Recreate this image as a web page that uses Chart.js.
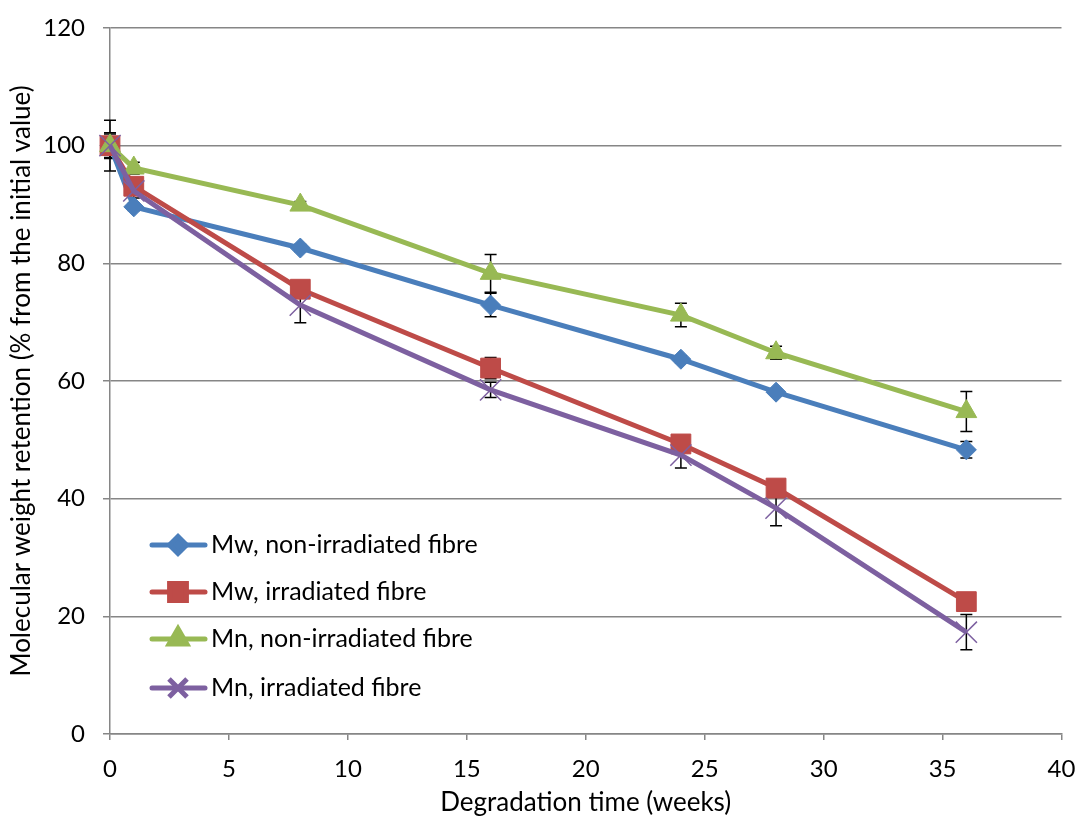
<!DOCTYPE html>
<html>
<head>
<meta charset="utf-8">
<script src="https://cdn.jsdelivr.net/npm/chart.js@4.4.1/dist/chart.umd.min.js"></script>
<style>
  html, body { margin: 0; padding: 0; background: #fff; }
  #wrap { width: 1078px; height: 818px; }
</style>
</head>
<body>
<div id="wrap"><canvas id="grafica"></canvas></div>
<script>
const semanas = [0, 1, 8, 16, 24, 28, 36];

const mwNoIrr = [100, 89.6, 82.6, 72.9, 63.7, 58.1, 48.3];
const mwIrr   = [100, 93.1, 75.6, 62.2, 49.3, 41.8, 22.5];
const mnNoIrr = [100, 96.2, 89.9, 78.3, 71.2, 64.8, 54.8];
const mnIrr   = [100, 92.3, 72.9, 58.5, 47.4, 38.4, 17.3];

const errMwNoIrr = [2.2, 0.6, 0.6, 2.0, 0.6, 0.6, 1.4];
const errMwIrr   = [1.5, 0.8, 0.8, 1.8, 0.8, 0.6, 0.8];
const errMnNoIrr = [4.3, 1.0, 0.6, 3.2, 2.0, 1.1, 3.4];
const errMnIrr   = [2.0, 1.2, 3.0, 1.3, 2.2, 3.0, 3.0];

const etiquetas = [
    "Mw, non-irradiated fibre",
    "Mw, irradiated fibre",
    "Mn, non-irradiated fibre",
    "Mn, irradiated fibre"
];

const fuente = "Lato, 'Liberation Sans', sans-serif";

function puntos(valores) {
    return valores.map((v, i) => ({ x: semanas[i], y: v }));
}

function serie(label, valores, errores, color, estilo, radio, orden) {
    return {
        label: label,
        data: puntos(valores),
        errores: errores,
        order: orden,
        clip: false,
        borderColor: color,
        backgroundColor: color,
        borderWidth: 5,
        pointStyle: estilo,
        pointRadius: radio,
        pointBorderWidth: estilo === "crossRot" ? 1.5 : 1,
        pointBorderColor: color,
        pointBackgroundColor: color,
        tension: 0
    };
}

// barras de error con las escalas del grafico
const barrasError = {
    id: "barrasError",
    beforeDatasetsDraw(chart) {
        const ctx = chart.ctx;
        const xs = chart.scales.x;
        const ys = chart.scales.y;
        ctx.save();
        ctx.strokeStyle = "#000";
        ctx.lineWidth = 1.5;
        chart.data.datasets.forEach(ds => {
            ds.data.forEach((p, i) => {
                const e = ds.errores[i];
                const px = xs.getPixelForValue(p.x);
                const y1 = ys.getPixelForValue(p.y + e);
                const y2 = ys.getPixelForValue(p.y - e);
                ctx.beginPath();
                ctx.moveTo(px, y1);
                ctx.lineTo(px, y2);
                ctx.moveTo(px - 6, y1);
                ctx.lineTo(px + 6, y1);
                ctx.moveTo(px - 6, y2);
                ctx.lineTo(px + 6, y2);
                ctx.stroke();
            });
        });
        ctx.restore();
    }
};

// leyenda dentro del area del grafico
const leyenda = {
    id: "leyenda",
    afterDraw(chart) {
        const ctx = chart.ctx;
        const filas = [545, 592, 639, 688];
        ctx.save();
        chart.data.datasets.forEach((ds, i) => {
            const y = filas[i];
            ctx.strokeStyle = ds.borderColor;
            ctx.lineWidth = 5;
            ctx.lineCap = "round";
            ctx.beginPath();
            ctx.moveTo(152, y);
            ctx.lineTo(205, y);
            ctx.stroke();
            ctx.lineCap = "butt";
            ctx.fillStyle = ds.borderColor;
            ctx.strokeStyle = ds.borderColor;
            Chart.helpers.drawPoint(ctx, {
                pointStyle: ds.pointStyle,
                radius: ds.pointRadius * 0.85,
                rotation: 0,
                borderWidth: ds.pointBorderWidth
            }, 178, y);
            ctx.fillStyle = "#000";
            ctx.font = "25px " + fuente;
            ctx.textBaseline = "middle";
            ctx.fillText(ds.label, 211, y);
        });
        ctx.restore();
    }
};

function crearGrafica() {
    const ctx = document.getElementById("grafica").getContext("2d");
    new Chart(ctx, {
        type: "line",
        data: {
            datasets: [
                serie(etiquetas[0], mwNoIrr, errMwNoIrr, "#4a7ebb", "rectRot", 10, 3),
                serie(etiquetas[1], mwIrr, errMwIrr, "#be4b48", "rect", 14, 2),
                serie(etiquetas[2], mnNoIrr, errMnNoIrr, "#98b954", "triangle", 12, 1),
                serie(etiquetas[3], mnIrr, errMnIrr, "#7d60a0", "crossRot", 15, 0)
            ]
        },
        options: {
            responsive: true,
            maintainAspectRatio: false,
            animation: false,
            layout: { padding: { top: 28, right: 16, left: 0, bottom: 0 } },
            plugins: {
                legend: { display: false },
                tooltip: { enabled: false }
            },
            scales: {
                x: {
                    type: "linear",
                    min: 0,
                    max: 40,
                    afterFit: s => {
                        s.height = 84;
                        s.paddingLeft = 0;
                        s.paddingRight = 0;
                    },
                    ticks: {
                        stepSize: 5,
                        color: "#000",
                        padding: 15,
                        font: { family: fuente, size: 24 }
                    },
                    grid: { drawOnChartArea: false, color: "#868686", lineWidth: 1.5, tickLength: 6 },
                    border: { color: "#868686", width: 1.5 },
                    title: {
                        display: true,
                        text: "Degradation time (weeks)",
                        color: "#000",
                        padding: { top: 2, bottom: 0 },
                        font: { family: fuente, size: 26 }
                    }
                },
                y: {
                    min: 0,
                    max: 120,
                    afterFit: s => {
                        s.width = 110;
                        s.paddingTop = 0;
                        s.paddingBottom = 0;
                    },
                    ticks: {
                        stepSize: 20,
                        color: "#000",
                        padding: 18,
                        font: { family: fuente, size: 24 }
                    },
                    grid: { color: "#868686", lineWidth: 1.5, tickLength: 7 },
                    border: { color: "#868686", width: 1.5 },
                    title: {
                        display: true,
                        text: "Molecular weight retention (% from the initial value)",
                        color: "#000",
                        padding: { top: 6, bottom: 0 },
                        font: { family: fuente, size: 26 }
                    }
                }
            }
        },
        plugins: [barrasError, leyenda]
    });
}

document.addEventListener("DOMContentLoaded", () => {
    crearGrafica();
});
</script>
</body>
</html>
